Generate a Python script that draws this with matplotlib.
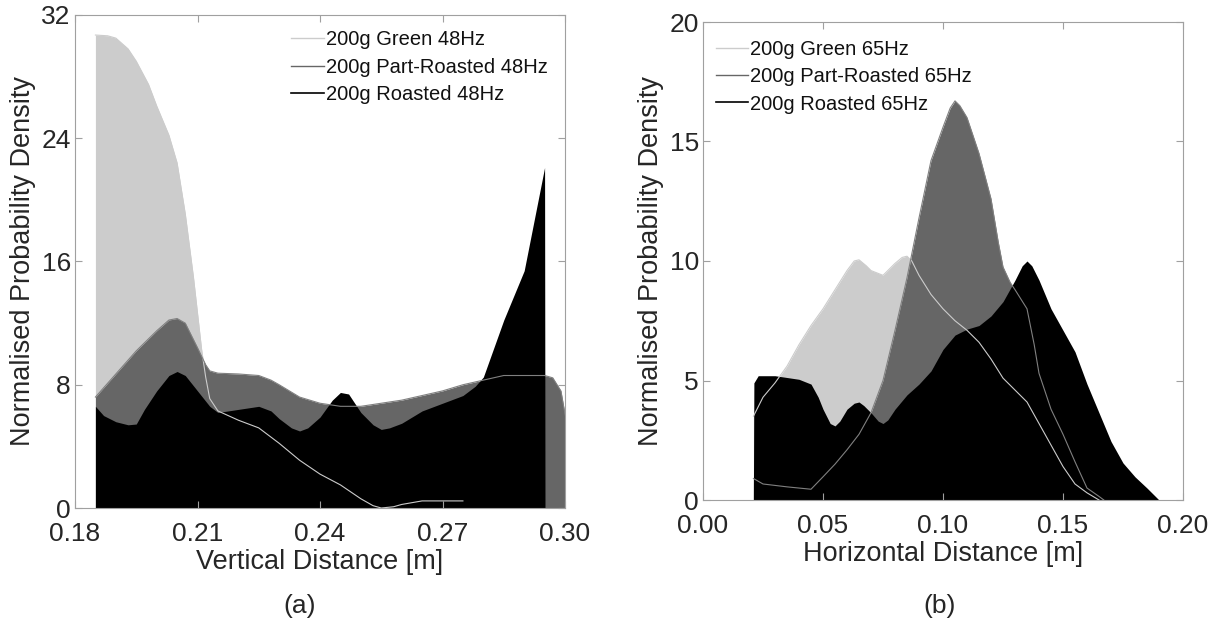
import matplotlib
matplotlib.use("Agg")
import matplotlib.pyplot as plt
from matplotlib.lines import Line2D
from matplotlib.ticker import FormatStrFormatter

plt.rcParams['font.family'] = ['Liberation Sans', 'DejaVu Sans']

# ---- panel (a): vertical distance, 48Hz ----
a_green_x = [0.185, 0.188, 0.190, 0.193, 0.195, 0.198, 0.200, 0.203, 0.205, 0.207,
             0.209, 0.211, 0.212, 0.213, 0.215, 0.220, 0.225, 0.230, 0.235, 0.240,
             0.245, 0.250, 0.253, 0.255, 0.258, 0.260, 0.265, 0.270, 0.275]
a_green_y = [30.7, 30.65, 30.5, 29.8, 29.0, 27.5, 26.1, 24.2, 22.4, 19.1,
             15.0, 10.3, 8.5, 7.1, 6.3, 5.7, 5.2, 4.2, 3.1, 2.2,
             1.5, 0.6, 0.15, 0.0, 0.08, 0.23, 0.46, 0.46, 0.46]

a_part_x = [0.185, 0.190, 0.195, 0.200, 0.203, 0.205, 0.207, 0.210, 0.212, 0.213,
            0.215, 0.220, 0.225, 0.228, 0.230, 0.235, 0.240, 0.245, 0.250, 0.255,
            0.260, 0.265, 0.270, 0.275, 0.280, 0.285, 0.290, 0.295, 0.297, 0.299,
            0.300, 0.302]
a_part_y = [7.2, 8.7, 10.2, 11.5, 12.2, 12.3, 12.0, 10.4, 9.3, 8.9,
            8.75, 8.7, 8.6, 8.3, 8.0, 7.2, 6.8, 6.6, 6.6, 6.8,
            7.0, 7.3, 7.6, 8.0, 8.3, 8.6, 8.6, 8.6, 8.45, 7.6,
            6.1, 4.0]

a_roast_x = [0.185, 0.187, 0.190, 0.193, 0.195, 0.197, 0.200, 0.203, 0.205, 0.207,
             0.210, 0.213, 0.215, 0.220, 0.225, 0.228, 0.230, 0.233, 0.235, 0.237,
             0.240, 0.243, 0.245, 0.247, 0.250, 0.253, 0.255, 0.257, 0.260, 0.265,
             0.270, 0.275, 0.278, 0.280, 0.285, 0.290, 0.295, 0.2951]
a_roast_y = [6.6, 6.0, 5.6, 5.4, 5.45, 6.4, 7.6, 8.6, 8.86, 8.6,
             7.6, 6.6, 6.2, 6.4, 6.6, 6.3, 5.8, 5.2, 5.0, 5.2,
             5.9, 7.0, 7.5, 7.4, 6.2, 5.4, 5.1, 5.2, 5.5, 6.3,
             6.8, 7.3, 7.9, 8.5, 12.2, 15.4, 22.1, 0.0]

# ---- panel (b): horizontal distance, 65Hz ----
b_green_x = [0.021, 0.025, 0.030, 0.035, 0.040, 0.045, 0.050, 0.055, 0.060, 0.063,
             0.065, 0.068, 0.070, 0.075, 0.080, 0.083, 0.085, 0.087, 0.090, 0.095,
             0.100, 0.105, 0.110, 0.115, 0.120, 0.125, 0.130, 0.135, 0.140, 0.145,
             0.150, 0.155, 0.160, 0.165]
b_green_y = [3.5, 4.3, 4.9, 5.6, 6.5, 7.3, 8.0, 8.8, 9.6, 10.0,
             10.05, 9.8, 9.6, 9.4, 9.9, 10.15, 10.2, 10.0, 9.4, 8.6,
             8.0, 7.5, 7.1, 6.6, 5.9, 5.1, 4.6, 4.1, 3.2, 2.3,
             1.4, 0.67, 0.3, 0.0]

b_part_x = [0.021, 0.025, 0.035, 0.045, 0.050, 0.055, 0.060, 0.065, 0.070, 0.075,
            0.080, 0.085, 0.090, 0.095, 0.100, 0.103, 0.105, 0.107, 0.110, 0.115,
            0.120, 0.123, 0.125, 0.128, 0.130, 0.135, 0.138, 0.140, 0.145, 0.150,
            0.155, 0.160, 0.165, 0.167]
b_part_y = [0.9, 0.67, 0.55, 0.45, 0.97, 1.5, 2.1, 2.75, 3.65, 5.0,
            7.1, 9.3, 11.8, 14.2, 15.6, 16.4, 16.7, 16.5, 16.0, 14.5,
            12.6, 10.8, 9.75, 9.1, 8.8, 8.0, 6.5, 5.3, 3.8, 2.75,
            1.6, 0.5, 0.15, 0.0]

b_roast_x = [0.021, 0.0212, 0.023, 0.030, 0.040, 0.045, 0.048, 0.050, 0.053, 0.055,
             0.057, 0.060, 0.063, 0.065, 0.067, 0.070, 0.073, 0.075, 0.077, 0.080,
             0.085, 0.090, 0.095, 0.100, 0.105, 0.110, 0.115, 0.120, 0.125, 0.130,
             0.133, 0.135, 0.137, 0.140, 0.145, 0.150, 0.155, 0.160, 0.165, 0.170,
             0.175, 0.180, 0.185, 0.190]
b_roast_y = [0.0, 4.9, 5.2, 5.2, 5.05, 4.85, 4.3, 3.8, 3.2, 3.1,
             3.3, 3.8, 4.05, 4.1, 3.95, 3.65, 3.3, 3.2, 3.35, 3.8,
             4.4, 4.85, 5.4, 6.3, 6.9, 7.15, 7.3, 7.7, 8.3, 9.2,
             9.8, 10.0, 9.8, 9.2, 8.0, 7.1, 6.2, 4.85, 3.65, 2.45,
             1.55, 0.97, 0.5, 0.0]

c_green = '#cccccc'
c_part = '#666666'
c_roast = '#000000'
edge_col = '#a0a0a0'
text_col = '#262626'

fig = plt.figure(figsize=(12.14, 6.32), dpi=100)
ax1 = fig.add_axes([75 / 1214, 1 - 508 / 632, 490 / 1214, 493 / 632])
ax2 = fig.add_axes([703 / 1214, 1 - 500 / 632, 480 / 1214, 478 / 632])


def draw(ax, gx, gy, px, py, rx, ry, hz, legend_anchor):
    ax.fill_between(gx, 0, gy, color=c_green, lw=0)
    ax.fill_between(px, 0, py, color=c_part, lw=0)
    ax.fill_between(rx, 0, ry, color=c_roast, lw=0)
    # outlines of the hidden curves show through the dark fills
    ax.plot(gx, gy, color=c_green, lw=0.8)
    ax.plot(px, py, color='#808080', lw=0.8)
    handles = [Line2D([], [], color=c_green, lw=1.0),
               Line2D([], [], color=c_part, lw=1.0),
               Line2D([], [], color=c_roast, lw=1.2)]
    labels = ['200g Green %s' % hz, '200g Part-Roasted %s' % hz, '200g Roasted %s' % hz]
    ax.legend(handles, labels, loc='upper left', bbox_to_anchor=legend_anchor,
              frameon=False, fontsize=14.5, handlelength=1.6, handletextpad=0.1,
              labelspacing=0.42, borderaxespad=0, labelcolor='#111111')
    for s in ax.spines.values():
        s.set_color(edge_col)
        s.set_linewidth(0.8)
    ax.tick_params(direction='in', top=True, right=True, length=5, width=0.8,
                   color=edge_col, labelsize=19, labelcolor=text_col, pad=3)
    ax.tick_params(axis='x', pad=10)
    ax.set_ylabel('Normalised Probability Density', fontsize=19.5, color=text_col,
                  labelpad=4)


draw(ax1, a_green_x, a_green_y, a_part_x, a_part_y, a_roast_x, a_roast_y, '48Hz',
     (0.425, 0.985))
ax1.set_xlim(0.18, 0.30)
ax1.set_ylim(0, 32)
ax1.set_xticks([0.18, 0.21, 0.24, 0.27, 0.30])
ax1.set_yticks([0, 8, 16, 24, 32])
ax1.xaxis.set_major_formatter(FormatStrFormatter('%.2f'))
ax1.set_xlabel('Vertical Distance [m]', fontsize=19.5, color=text_col, labelpad=2)

draw(ax2, b_green_x, b_green_y, b_part_x, b_part_y, b_roast_x, b_roast_y, '65Hz',
     (0.01, 0.98))
ax2.set_xlim(0.0, 0.20)
ax2.set_ylim(0, 20)
ax2.set_xticks([0.0, 0.05, 0.10, 0.15, 0.20])
ax2.set_yticks([0, 5, 10, 15, 20])
ax2.xaxis.set_major_formatter(FormatStrFormatter('%.2f'))
ax2.set_xlabel('Horizontal Distance [m]', fontsize=19.5, color=text_col, labelpad=2)

fig.text(300 / 1214, 1 - 606 / 632, '(a)', ha='center', va='center', fontsize=19, color=text_col)
fig.text(940 / 1214, 1 - 606 / 632, '(b)', ha='center', va='center', fontsize=19, color=text_col)

fig.savefig('out.png', dpi=100)
